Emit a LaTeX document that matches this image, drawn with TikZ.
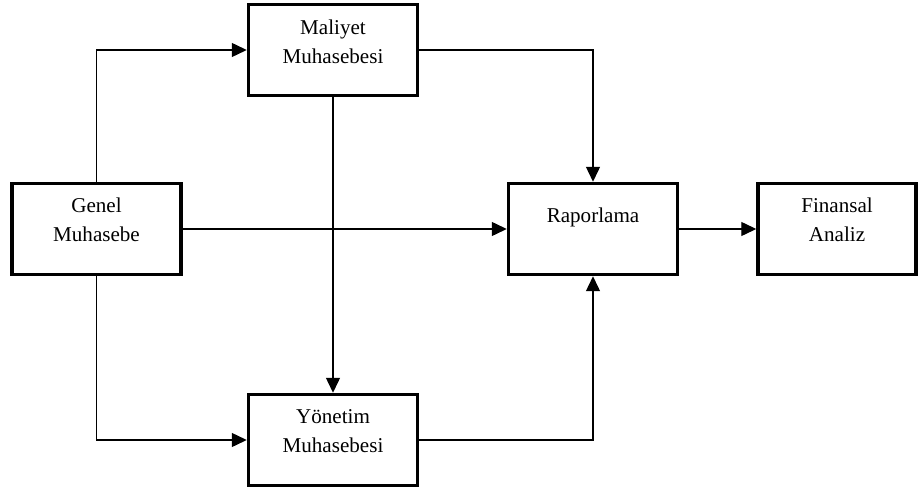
\documentclass[tikz,border=0pt]{standalone}
\usepackage{fontspec}
\setmainfont{Liberation Serif}
\usetikzlibrary{arrows.meta}

\begin{document}
\begin{tikzpicture}[x=0.02cm,y=-0.02cm,
  box/.style={draw,line width=2pt,minimum width=3.38cm,minimum height=1.82cm,inner sep=0pt},
  lbl/.style={align=center,inner sep=0pt,font=\fontsize{12}{16.5}\selectfont},
  conn/.style={line width=0.8pt,-{Triangle[length=0.3cm,width=0.28cm]}}]
\useasboundingbox (0,0) rectangle (919,493);
% boxes
\node[box] (genel) at (96.5,229) {};
\node[box] (maliyet) at (333,50) {};
\node[box] (yonetim) at (333,440) {};
\node[box] (rapor) at (593,229) {};
\node[box,minimum width=3.16cm] (finans) at (837,229) {};
% texts
\node[lbl] (genelT) at (96.5,220) {Genel\\Muhasebe};
\node[lbl] (maliyetT) at (333,42) {Maliyet\\Muhasebesi};
\node[lbl] (yonetimT) at (333,431) {Yönetim\\Muhasebesi};
\node[lbl] (raporT) at (593,217) {Raporlama};
\node[lbl] (finansT) at (837,220) {Finansal\\Analiz};
% arrows
\draw[conn] (genel.north) |- (maliyet.west);
\draw[conn] (genel.south) |- (yonetim.west);
\draw[conn] (genel.east) -- (rapor.west);
\draw[conn] (maliyet.south) -- (yonetim.north);
\draw[conn] (maliyet.east) -| (rapor.north);
\draw[conn] (yonetim.east) -| (rapor.south);
\draw[conn] (rapor.east) -- (finans.west);

\end{tikzpicture}
\end{document}
